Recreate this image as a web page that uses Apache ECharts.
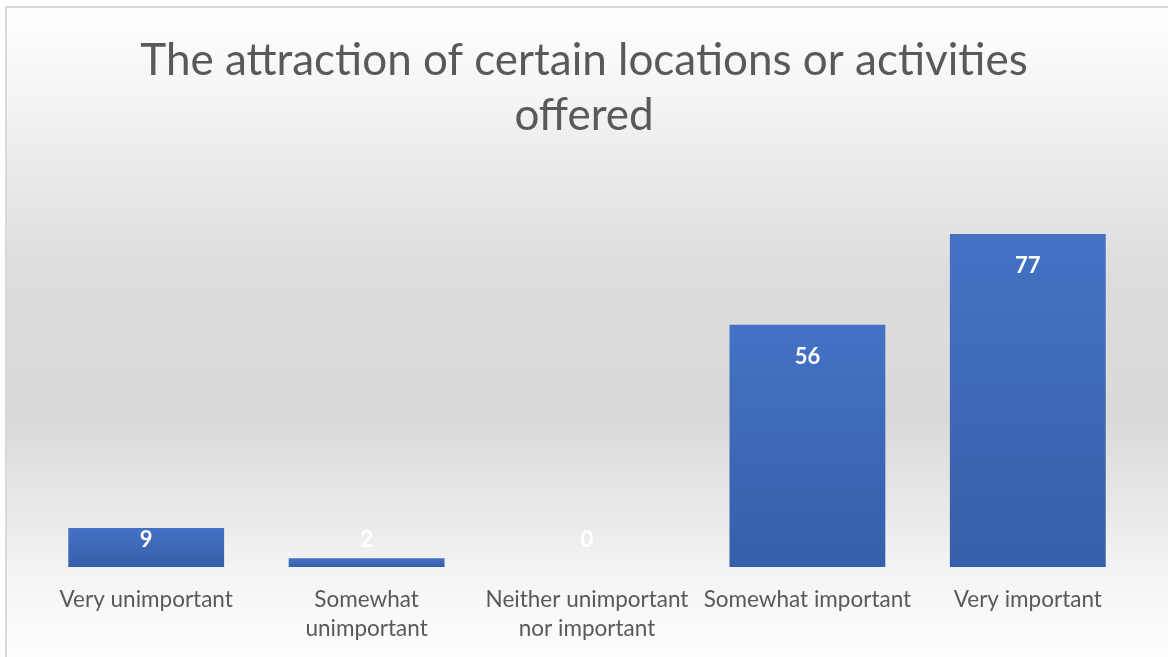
<!DOCTYPE html>
<html>
<head>
	<meta charset="utf-8" />
	<title>The attraction of certain locations or activities offered</title>
	<script src="https://cdn.jsdelivr.net/npm/echarts@6/dist/echarts.min.js"></script>
	<style>
		html, body { margin: 0; padding: 0; background: #ffffff; }
		#chart { width: 1168px; height: 657px; }
	</style>
</head>
<body>
	<div id="chart"></div>
	<script type="text/javascript">
		// 数据
		var titleText = 'The attraction of certain locations or activities\noffered';
		var categories = ['Very unimportant', 'Somewhat\nunimportant', 'Neither unimportant\nnor important', 'Somewhat important', 'Very important'];
		var counts = [9, 2, 0, 56, 77];

		var myChart = echarts.init(document.getElementById('chart'), null, { renderer: 'canvas' });

		// small bars: label sits just above the baseline
		var barData = counts.map(function (v) {
			if (v < 20) {
				return { value: v, label: { position: 'insideBottom', distance: 16 } };
			}
			return v;
		});

		var option = {
			animation: false,
			backgroundColor: '#ffffff',
			graphic: [
				{
					type: 'rect',
					z: -10,
					shape: { x: 6, y: 7, width: 1170, height: 660 },
					style: {
						fill: new echarts.graphic.LinearGradient(0, 0, 0, 1, [
							{ offset: 0, color: '#ffffff' },
							{ offset: 0.15, color: '#f3f3f3' },
							{ offset: 0.4, color: '#dddddd' },
							{ offset: 0.62, color: '#d9d9d9' },
							{ offset: 0.86, color: '#f4f4f4' },
							{ offset: 1, color: '#ffffff' }
						]),
						stroke: '#d9d9d9',
						lineWidth: 2
					}
				}
			],
			title: {
				text: titleText,
				left: 'center',
				top: 28,
				textStyle: {
					fontFamily: 'Lato',
					fontWeight: 'normal',
					fontSize: 44,
					lineHeight: 55,
					color: '#595959'
				}
			},
			grid: {
				left: 36,
				right: 30,
				top: 221,
				bottom: 90,
				containLabel: false
			},
			xAxis: {
				type: 'category',
				data: categories,
				axisLine: { show: false },
				axisTick: { show: false },
				axisLabel: {
					interval: 0,
					margin: 18,
					fontFamily: 'Lato',
					fontSize: 22.5,
					lineHeight: 29,
					color: '#595959'
				}
			},
			yAxis: {
				type: 'value',
				min: 0,
				max: 80,
				show: false,
				splitLine: { show: false }
			},
			series: [
				{
					type: 'bar',
					data: barData,
					barWidth: '70.7%',
					itemStyle: {
						color: new echarts.graphic.LinearGradient(0, 0, 0, 1, [
							{ offset: 0, color: '#4472c4' },
							{ offset: 1, color: '#365fab' }
						])
					},
					label: {
						show: true,
						position: 'insideTop',
						distance: 21,
						color: '#ffffff',
						fontFamily: 'Lato',
						fontWeight: 'bold',
						fontSize: 22
					}
				}
			]
		};

		myChart.setOption(option);
		window.addEventListener('resize', myChart.resize);
	</script>
</body>
</html>
